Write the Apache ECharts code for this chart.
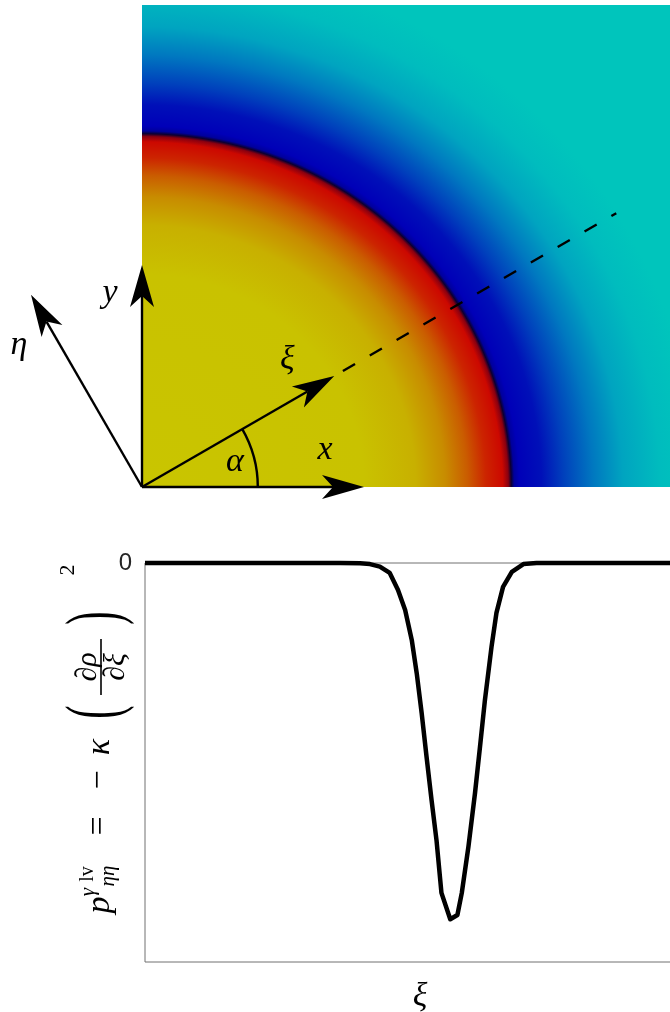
<!DOCTYPE html>
<html>
<head>
<meta charset="utf-8">
<script src="https://cdn.jsdelivr.net/npm/echarts@6/dist/echarts.min.js"></script>
<style>
  html, body { margin: 0; padding: 0; background: #fff; }
  #chart { width: 670px; height: 1012px; }
</style>
</head>
<body>
<div id="chart"></div>
<script>
// Radial colour profile of the density field, radius given relative to the interface
const profileRadius = [0, 0.6, 0.74, 0.82, 0.88, 0.93, 0.975, 0.99, 0.998, 1.006, 1.02, 1.08, 1.14, 1.22, 1.3, 1.4, 1.5, 2.0];
const profileColor = ['#c9c500', '#c9c200', '#c8b000', '#c88c00', '#ca5c00', '#cc2400', '#cc0800',
  '#8a0010', '#0c0030', '#00009c', '#0000b8', '#0010b8', '#0040bc', '#0078c0', '#00a4c0', '#00bcbe',
  '#00c5bc', '#00c5bc'];

// Interface semi-axes (x, y) in field units
const interfaceAxes = [1.0, 0.957];
// Extent of the field window
const fieldWidth = 1.427;
const fieldHeight = 1.303;

// Frame arrows: label, direction (degrees), length (field units)
const arrowNames = ['x', 'y', 'ξ', 'η'];
const arrowAngles = [0, 90, 30, 120];
const arrowLengths = [0.6, 0.6, 0.6, 0.6];

// Rotation angle of the local frame and the dashed cut line along ξ
const alphaDeg = 30;
const arcRadius = 0.313;
const cutStart = 0.627;
const cutEnd = 1.48;

// Interface pressure profile along ξ
const xiValues = [0, 0.1, 0.191, 0.282, 0.355, 0.391, 0.409, 0.427, 0.445, 0.46, 0.473, 0.485, 0.494,
  0.503, 0.512, 0.521, 0.53, 0.539, 0.555, 0.568, 0.576, 0.588, 0.6, 0.609, 0.618, 0.63, 0.639, 0.651,
  0.667, 0.688, 0.712, 0.827, 0.955, 1.0];
const pressureValues = [0, 0, 0, 0, 0, -0.001, -0.003, -0.01, -0.028, -0.076, -0.132, -0.216, -0.309,
  -0.421, -0.545, -0.665, -0.778, -0.926, -1.0, -0.988, -0.926, -0.797, -0.646, -0.517, -0.385, -0.236,
  -0.14, -0.067, -0.025, -0.003, 0, 0, 0, 0];

const yTickLabels = ['0'];

const mathFont = '"Liberation Serif", "DejaVu Serif", serif';
const labelOffsets = { 'x': [-39, -37], 'y': [-32, 28], 'ξ': [-47, -16], 'η': [-12, 50] };

function renderField(params, api) {
  const o = api.coord([0, 0]);
  const unit = api.size([1, 1]);
  const rx = api.value(0) * unit[0];
  const ry = api.value(1) * unit[1];
  const s = ry / rx;
  const W = fieldWidth * unit[0];
  const H = fieldHeight * unit[1] / s;
  const R = Math.hypot(W, H);
  const stops = profileRadius.map((r, i) => ({ offset: Math.min(1, r * rx / R), color: profileColor[i] }));
  return {
    type: 'group', x: o[0], y: o[1], scaleY: s,
    children: [{
      type: 'rect',
      shape: { x: 0, y: -H, width: W, height: H },
      style: { fill: { type: 'radial', x: 0, y: 0, r: R, global: true, colorStops: stops } }
    }]
  };
}

function renderArrow(params, api) {
  const ang = api.value(0) * Math.PI / 180;
  const o = api.coord([0, 0]);
  const L = api.value(1) * api.size([1, 0])[0];
  const dx = Math.cos(ang), dy = -Math.sin(ang);
  const px = -dy, py = dx;
  const at = (d, w) => [o[0] + dx * d + px * w, o[1] + dy * d + py * w];
  const tip = at(L, 0);
  const name = arrowNames[params.dataIndex];
  const off = labelOffsets[name];
  return {
    type: 'group',
    children: [
      { type: 'line', shape: { x1: o[0], y1: o[1], x2: at(L - 31, 0)[0], y2: at(L - 31, 0)[1] },
        style: { stroke: '#000', lineWidth: 2.4 } },
      { type: 'polygon', shape: { points: [tip, at(L - 42, 12), at(L - 31, 0), at(L - 42, -12)] },
        style: { fill: '#000' } },
      { type: 'text', x: tip[0] + off[0], y: tip[1] + off[1],
        style: { text: name, font: 'italic 34px ' + mathFont, fill: '#000', align: 'center', verticalAlign: 'middle' } }
    ]
  };
}

function renderGuide(params, api) {
  const o = api.coord([0, 0]);
  const u = api.size([1, 0])[0];
  const a = api.value(0) * Math.PI / 180;
  const r = api.value(1) * u;
  const c = Math.cos(a), s = Math.sin(a);
  const lab = 0.26 * u;
  return {
    type: 'group',
    children: [
      { type: 'arc', shape: { cx: o[0], cy: o[1], r: r, startAngle: -a, endAngle: 0, clockwise: true },
        style: { stroke: '#000', lineWidth: 2.4, fill: null } },
      { type: 'line',
        shape: { x1: o[0] + c * api.value(2) * u, y1: o[1] - s * api.value(2) * u,
                 x2: o[0] + c * api.value(3) * u, y2: o[1] - s * api.value(3) * u },
        style: { stroke: '#000', lineWidth: 2.4, lineDash: [14, 17] } },
      { type: 'text', x: o[0] + Math.cos(a / 2) * lab, y: o[1] - Math.sin(a / 2) * lab,
        style: { text: 'α', font: 'italic 34px ' + mathFont, fill: '#000', align: 'center', verticalAlign: 'middle' } }
    ]
  };
}

// Rotated y-axis title: p_ηη^γlv = −κ (∂ρ/∂ξ)^2, local x runs up the page
function t(text, u, v, size, italic, extra) {
  return Object.assign({
    type: 'text', x: u, y: v,
    style: { text: text, font: (italic ? 'italic ' : '') + size + 'px ' + mathFont, fill: '#000',
      align: 'center', verticalAlign: 'middle' }
  }, extra || {});
}
const yTitle = {
  type: 'group', x: 100, y: 975, rotation: Math.PI / 2,
  children: [
    t('p', 70, 0, 34, true),
    t('γ', 83, -12, 21, true),
    t('lv', 101, -12, 20, false),
    t('ηη', 99, 8, 21, true),
    t('=', 149, -1, 34, false),
    t('−', 195, -1, 34, false),
    t('κ', 228, 0, 34, true),
    t('(', 263, -2, 40, false, { scaleY: 1.9 }),
    t('∂ρ', 308, -12, 30, true),
    { type: 'line', shape: { x1: 280, y1: 1, x2: 336, y2: 1 }, style: { stroke: '#000', lineWidth: 1.6 } },
    t('∂ξ', 308, 16, 30, true),
    t(')', 357, -2, 40, false, { scaleY: 1.9 }),
    t('2', 405, -32, 22, false)
  ]
};

const chart = echarts.init(document.getElementById('chart'));
chart.setOption({
  animation: false,
  grid: [
    { left: 142, top: 5, width: 528, height: 482, show: false, containLabel: false, outerBoundsMode: 'none' },
    { left: 145, top: 563, width: 550, height: 399, show: true, borderColor: '#707070', borderWidth: 1,
      containLabel: false, outerBoundsMode: 'none' }
  ],
  xAxis: [
    { type: 'value', gridIndex: 0, min: 0, max: fieldWidth, show: false },
    { type: 'value', gridIndex: 1, min: 0, max: 1,
      axisLine: { show: false }, axisTick: { show: false }, axisLabel: { show: false }, splitLine: { show: false },
      name: 'ξ', nameLocation: 'middle', nameGap: 18,
      nameTextStyle: { fontFamily: mathFont, fontStyle: 'italic', fontSize: 34, color: '#000' } }
  ],
  yAxis: [
    { type: 'value', gridIndex: 0, min: 0, max: fieldHeight, show: false },
    { type: 'value', gridIndex: 1, min: -1.12, max: 0, interval: 0.28,
      axisLine: { show: false }, axisTick: { show: false }, splitLine: { show: false },
      axisLabel: { formatter: v => (Math.abs(v) < 1e-9 ? yTickLabels[0] : ''),
        fontFamily: '"Liberation Sans", Arial, sans-serif', fontSize: 24, color: '#262626', margin: 13 } }
  ],
  graphic: [yTitle],
  series: [
    { type: 'custom', xAxisIndex: 0, yAxisIndex: 0, renderItem: renderField,
      data: [interfaceAxes], silent: true, z: 1 },
    { type: 'custom', xAxisIndex: 0, yAxisIndex: 0, renderItem: renderGuide,
      data: [[alphaDeg, arcRadius, cutStart, cutEnd]], silent: true, z: 2 },
    { type: 'custom', xAxisIndex: 0, yAxisIndex: 0, renderItem: renderArrow,
      data: arrowAngles.map((a, i) => [a, arrowLengths[i]]), silent: true, z: 3 },
    { type: 'line', xAxisIndex: 1, yAxisIndex: 1, showSymbol: false, symbol: 'none', clip: false,
      data: xiValues.map((x, i) => [x, pressureValues[i]]),
      lineStyle: { color: '#000', width: 4.5, join: 'round' }, z: 3 }
  ]
});
</script>
</body>
</html>
